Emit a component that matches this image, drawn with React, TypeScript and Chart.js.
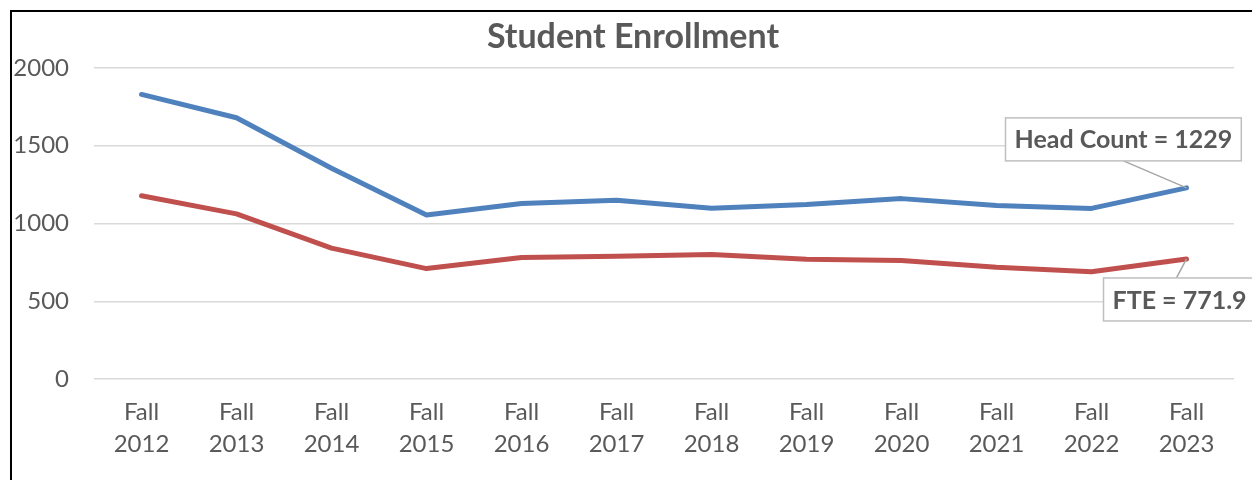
import React, { useEffect, useRef } from "react";
import { Chart, registerables } from "chart.js";

Chart.register(...registerables);

const categories: string[][] = [
  ["Fall", "2012"], ["Fall", "2013"], ["Fall", "2014"], ["Fall", "2015"],
  ["Fall", "2016"], ["Fall", "2017"], ["Fall", "2018"], ["Fall", "2019"],
  ["Fall", "2020"], ["Fall", "2021"], ["Fall", "2022"], ["Fall", "2023"],
];
const headCount: number[] = [1830, 1680, 1355, 1055, 1128, 1150, 1098, 1122, 1160, 1115, 1097, 1229];
const fte: number[] = [1178, 1062, 842, 710, 781, 790, 800, 770, 762, 718, 690, 771.9];
const titleText = "Student Enrollment";
const headLabel = "Head Count = 1229";
const fteLabel = "FTE = 771.9";

const FONT = "Lato, 'Open Sans', sans-serif";
const TEXT = "#595959";

const decorPlugin = {
  id: "decor",
  beforeDraw(chart: any) {
    const ctx = chart.ctx;
    ctx.save();
    ctx.fillStyle = "#ffffff";
    ctx.fillRect(0, 0, chart.width, chart.height);
    ctx.strokeStyle = "#000000";
    ctx.lineWidth = 2;
    ctx.strokeRect(11, 11, chart.width + 20, chart.height + 20);
    ctx.fillStyle = TEXT;
    ctx.font = `bold 34px ${FONT}`;
    ctx.textAlign = "center";
    ctx.textBaseline = "alphabetic";
    ctx.fillText(titleText, 633, 48);
    ctx.restore();
  },
  afterDatasetsDraw(chart: any) {
    const ctx = chart.ctx;
    const drawCallout = (dsIndex: number, text: string, dx: number, dy: number, anchorDx: number, anchorSide: "top" | "bottom") => {
      const meta = chart.getDatasetMeta(dsIndex);
      const pt = meta.data[meta.data.length - 1];
      ctx.save();
      ctx.font = `bold 25px ${FONT}`;
      const tw = ctx.measureText(text).width;
      const w = tw + 18;
      const h = 43;
      const bx = pt.x + dx;
      const by = pt.y + dy;
      ctx.strokeStyle = "#a6a6a6";
      ctx.lineWidth = 1.5;
      ctx.beginPath();
      const ly = anchorSide === "bottom" ? by + h : by;
      ctx.moveTo(pt.x + anchorDx, ly);
      ctx.lineTo(pt.x, pt.y);
      ctx.stroke();
      ctx.fillStyle = "#ffffff";
      ctx.fillRect(bx, by, w, h);
      ctx.strokeStyle = "#bfbfbf";
      ctx.lineWidth = 1.5;
      ctx.strokeRect(bx, by, w, h);
      ctx.fillStyle = TEXT;
      ctx.textAlign = "center";
      ctx.textBaseline = "middle";
      ctx.fillText(text, bx + w / 2, by + h / 2 + 1);
      ctx.restore();
    };
    drawCallout(0, headLabel, -181, -70, -63, "bottom");
    drawCallout(1, fteLabel, -83, 19, -10, "top");
  },
};

export default function App() {
  const ref = useRef<HTMLCanvasElement | null>(null);
  useEffect(() => {
    if (!ref.current) return;
    const chart = new Chart(ref.current, {
      type: "line",
      data: {
        labels: categories,
        datasets: [
          {
            label: "Head Count",
            data: headCount,
            borderColor: "#4F81BD",
            backgroundColor: "#4F81BD",
            borderWidth: 5,
            pointRadius: 0,
            borderJoinStyle: "round",
            borderCapStyle: "round",
            tension: 0,
          },
          {
            label: "FTE",
            data: fte,
            borderColor: "#C0504D",
            backgroundColor: "#C0504D",
            borderWidth: 5,
            pointRadius: 0,
            borderJoinStyle: "round",
            borderCapStyle: "round",
            tension: 0,
          },
        ],
      },
      options: {
        responsive: false,
        animation: false,
        layout: { padding: { top: 68, right: 18, left: 0, bottom: 0 } },
        plugins: {
          legend: { display: false },
          tooltip: { enabled: false },
          title: { display: false },
        },
        scales: {
          x: {
            offset: true,
            grid: { display: false, drawTicks: false },
            border: { display: false },
            ticks: {
              color: TEXT,
              font: { family: FONT, size: 24, lineHeight: 1.35 },
              padding: 17,
              maxRotation: 0,
              autoSkip: false,
            },
            afterFit: (scale: any) => { scale.height = 101; },
          },
          y: {
            min: 0,
            max: 2000,
            grid: { color: "#d9d9d9", lineWidth: 1.5, drawTicks: false },
            border: { display: false },
            ticks: {
              stepSize: 500,
              color: TEXT,
              font: { family: FONT, size: 24 },
              padding: 25,
              callback: (v: any) => String(v),
            },
            afterFit: (scale: any) => { scale.width = 94; },
          },
        },
      },
      plugins: [decorPlugin],
    } as any);
    return () => chart.destroy();
  }, []);
  return (
    <div style={{ position: "absolute", left: 0, top: 0, width: 1252, height: 480 }}>
      <canvas ref={ref} width={1252} height={480} style={{ display: "block" }} />
    </div>
  );
}
